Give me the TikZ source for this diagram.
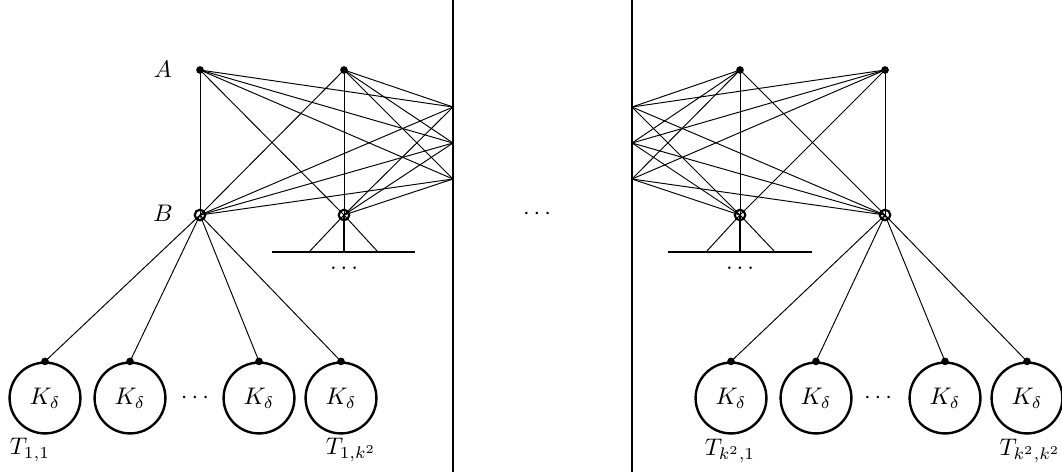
\documentclass[tikz,border=0pt]{standalone}
\begin{document}
\begin{tikzpicture}[x=0.4165pt,y=-0.4165pt,
  edge/.style={line width=0.4pt},
  dot/.style={circle,fill=black,inner sep=0pt,minimum size=3.2pt},
  hub/.style={circle,draw=black,line width=0.9pt,inner sep=0pt,minimum size=4.4pt},
  tree/.style={circle,draw=black,line width=1pt,inner sep=0pt,minimum size=29.5pt},
  bar/.style={line width=1.1pt},
  wall/.style={line width=1pt}]
\useasboundingbox (0,0) rectangle (1062,472);
% walls
\coordinate (L0) at (453,0); \coordinate (L1) at (453,472);
\coordinate (R0) at (632,0); \coordinate (R1) at (632,472);
\draw[wall] (L0) -- (L1);
\draw[wall] (R0) -- (R1);
\coordinate (w11) at (453,107); \coordinate (w12) at (453,143); \coordinate (w13) at (453,179);
\coordinate (w21) at (632,107); \coordinate (w22) at (632,143); \coordinate (w23) at (632,179);
% left panel
\node[dot] (A1) at (200,70) {};
\node[dot] (A2) at (344,70) {};
\node[hub] (B1) at (200,215) {};
\node[hub] (B2) at (344,215) {};
\node (la) at (163,69) {$A$};
\node (lb) at (163,213) {$B$};
\foreach \u in {A1,A2} \foreach \v in {B1,B2,w11,w12,w13} \draw[edge] (\u.center) -- (\v.center);
\foreach \u in {B1,B2} \foreach \v in {w11,w12,w13} \draw[edge] (\u.center) -- (\v.center);
\coordinate (bl1) at (272,252); \coordinate (br1) at (415,252); \coordinate (bm1) at (344,252);
\coordinate (da1) at (309,252); \coordinate (db1) at (378,252);
\draw[bar] (bl1) -- (br1);
\draw[bar] (B2.center) -- (bm1);
\draw[edge] (B2.center) -- (da1);
\draw[edge] (B2.center) -- (db1);
\node (d1) at (344,268) {$\ldots$};
\foreach \n/\x in {T11/45,T12/130,T13/259,T14/341} {
  \node[tree] (\n) at (\x,398) {$K_\delta$};
  \node[dot] (\n t) at (\n.north) {};
  \draw[edge] (B1.center) -- (\n t.center);
}
\node (c1) at (195,398) {$\cdots$};
\node (lt11) at (30,450) {$T_{1,1}$};
\node (lt12) at (351,450) {$T_{1,k^2}$};
% middle
\node (mid) at (537,214) {$\cdots$};
% right panel
\node[dot] (A3) at (740,70) {};
\node[dot] (A4) at (885,70) {};
\node[hub] (B3) at (740,215) {};
\node[hub] (B4) at (885,215) {};
\foreach \u in {A3,A4} \foreach \v in {B3,B4,w21,w22,w23} \draw[edge] (\u.center) -- (\v.center);
\foreach \u in {B3,B4} \foreach \v in {w21,w22,w23} \draw[edge] (\u.center) -- (\v.center);
\coordinate (bl2) at (668,252); \coordinate (br2) at (812,252); \coordinate (bm2) at (740,252);
\coordinate (da2) at (706,252); \coordinate (db2) at (775,252);
\draw[bar] (bl2) -- (br2);
\draw[bar] (B3.center) -- (bm2);
\draw[edge] (B3.center) -- (da2);
\draw[edge] (B3.center) -- (db2);
\node (d2) at (740,268) {$\ldots$};
\foreach \n/\x in {T21/731,T22/816,T23/945,T24/1027} {
  \node[tree] (\n) at (\x,398) {$K_\delta$};
  \node[dot] (\n t) at (\n.north) {};
  \draw[edge] (B4.center) -- (\n t.center);
}
\node (c2) at (878,398) {$\cdots$};
\node (lt21) at (730,451) {$T_{k^2,1}$};
\node (lt22) at (1030,451) {$T_{k^2,k^2}$};
\end{tikzpicture}
\end{document}
